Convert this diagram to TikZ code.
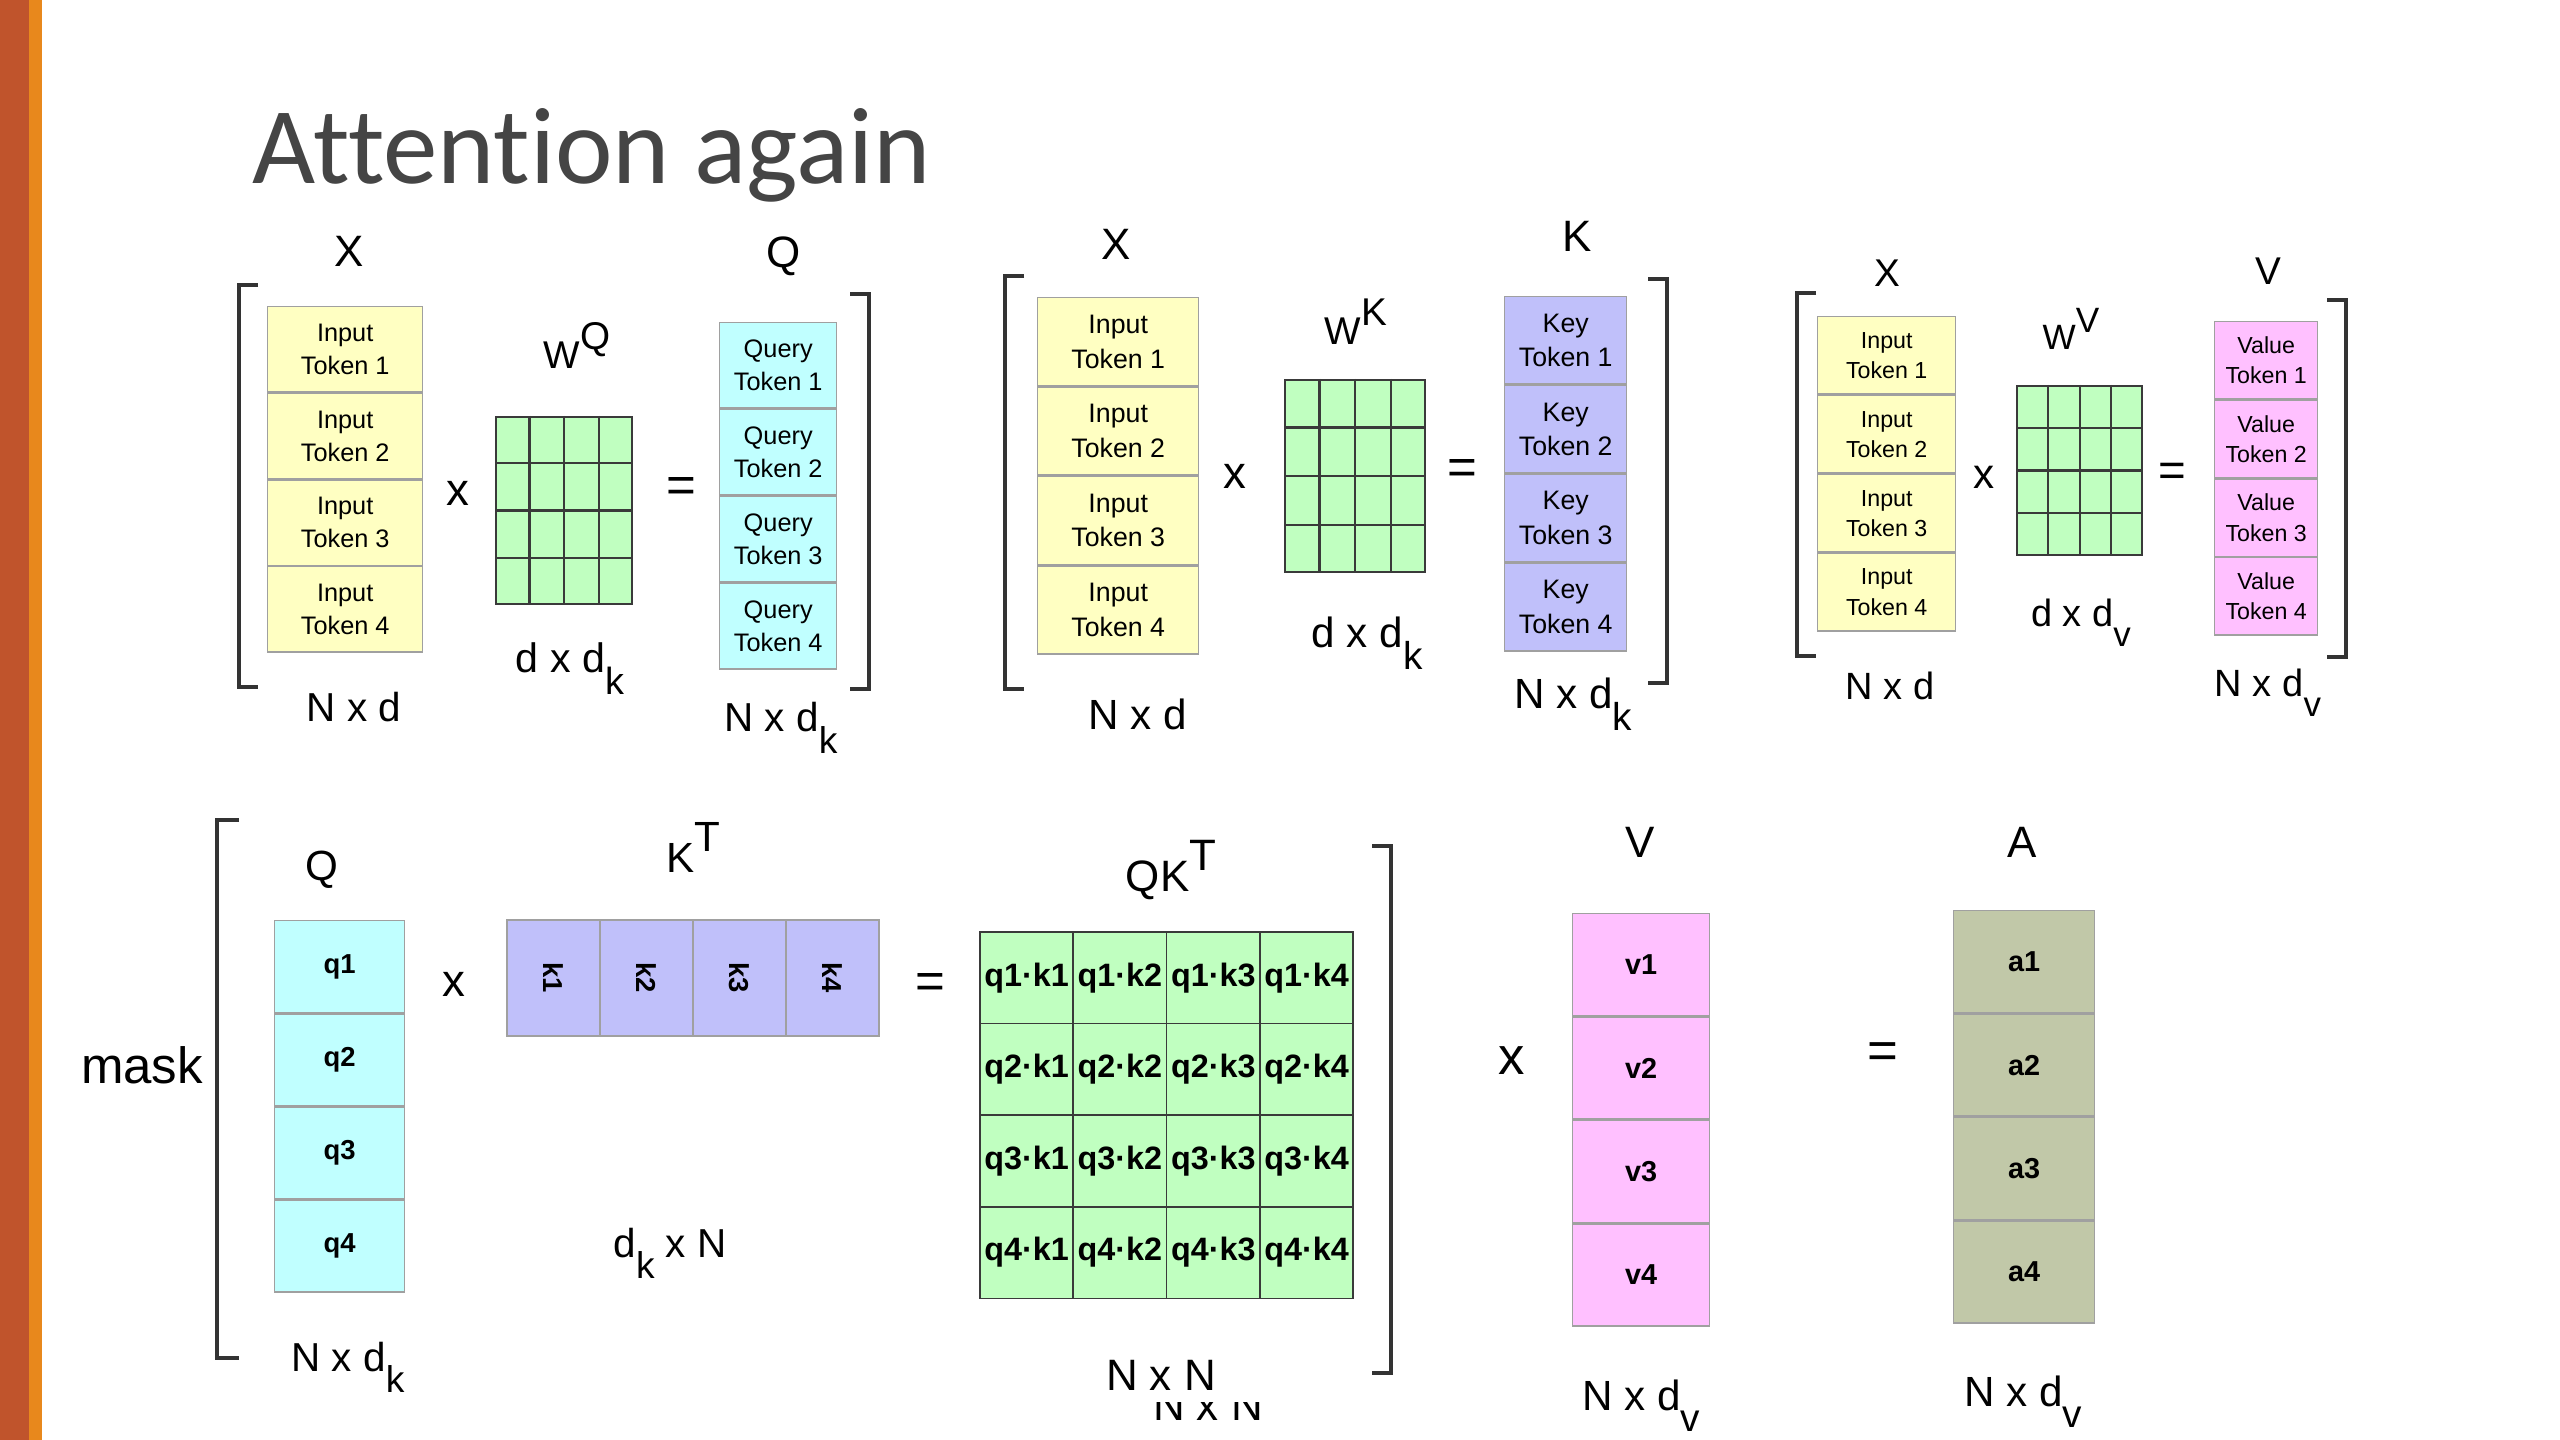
\documentclass[tikz,border=0pt]{standalone}
\usepackage{fontspec}
\setmainfont{Liberation Sans}
\newfontfamily\titlefont{Carlito}[Ligatures={NoCommon}]
\usetikzlibrary{positioning,calc}

\definecolor{barbrown}{HTML}{C0542C}
\definecolor{barorange}{HTML}{E8881C}
\definecolor{titlegray}{HTML}{454545}
\definecolor{inyellow}{HTML}{FFFFC2}
\definecolor{qcyan}{HTML}{C0FFFF}
\definecolor{kblue}{HTML}{C0C0FA}
\definecolor{vpink}{HTML}{FFC0FF}
\definecolor{wgreen}{HTML}{C0FFC0}
\definecolor{aolive}{HTML}{C1C8A8}
\definecolor{cellgray}{HTML}{A0A0A0}
\definecolor{gridline}{HTML}{3A3A3A}
\definecolor{brkgray}{HTML}{333333}

\begin{document}
\begin{tikzpicture}[x=0.01cm, y=-0.01cm]
\def\pxl{0.01cm}
\tikzset{cell/.style={draw=cellgray, line width=0.4pt, inner sep=0pt, align=center}}
	\tikzset{incell/.style={cell, fill=inyellow}}
	\tikzset{qcell/.style={cell, fill=qcyan}}
	\tikzset{kcell/.style={cell, fill=kblue}}
	\tikzset{vcell/.style={cell, fill=vpink}}
	\tikzset{acell/.style={cell, fill=aolive}}
	\tikzset{qkcell/.style={draw=gridline, fill=wgreen, line width=0.5pt, inner sep=0pt, font=\bfseries\fontsize{9.2}{9.2}\selectfont}}
	\tikzset{wgrid/.style={draw=gridline, fill=wgreen, line width=0.6pt, inner sep=0pt}}
	\tikzset{gridln/.style={draw=gridline, line width=0.6pt}}
	\tikzset{lbl/.style={inner sep=0pt, anchor=base}}
	\tikzset{op/.style={inner sep=0pt, anchor=center}}
	\tikzset{brk/.style={draw=brkgray, line width=0.9pt}}

	\newcommand{\fs}[1]{\fontsize{#1}{#1}\selectfont}
	\newcommand{\lowsub}[1]{\raisebox{-0.52em}{\scalebox{0.92}{#1}}}
	\newcommand{\highsup}[1]{\raisebox{0.5em}{#1}}

	% column of four cells: name, x, y, width, height, style, text, font
	\newcommand{\tokcol}[8]{
\node[#6, font={#8}, minimum width=#4*\pxl, minimum height=#5*\pxl, anchor=north west] (#11) at (#2,#3) {#71};
\foreach \i [remember=\i as \last (initially 1)] in {2,3,4}
	\node[#6, font={#8}, minimum width=#4*\pxl, minimum height=#5*\pxl, below=0pt of #1\last] (#1\i) {#7\i};
	}

	% green 4x4 weight matrix: name, x, y, width, height
	\newcommand{\wmat}[5]{
\node[wgrid, minimum width=#4*\pxl, minimum height=#5*\pxl, anchor=north west] (#1) at (#2,#3) {};
\foreach \k in {1,2,3} {
	\draw[gridln] ($(#1.north west)!\k/4!(#1.north east)$) -- ($(#1.south west)!\k/4!(#1.south east)$);
	\draw[gridln] ($(#1.north west)!\k/4!(#1.south west)$) -- ($(#1.north east)!\k/4!(#1.south east)$);
}
	}

\useasboundingbox (0,0) rectangle (2560,1440);
\fill[white] (0,0) rectangle (2560,1440);
\fill[barbrown] (0,0) rectangle (29,1440);
\fill[barorange] (29,0) rectangle (42,1440);

\node[anchor=base west, inner sep=0pt, font=\titlefont\fs{31}, text=titlegray] (title) at (252,184) {Attention again};

%% Q = X W^Q
\tokcol{inA}{267}{306}{155}{85.25}{incell}{Input\\Token~}{\fontsize{7.2}{9.4}\selectfont}
\wmat{wq}{495}{416}{136}{187}
\tokcol{qt}{719}{322}{117}{85.5}{qcell}{Query\\Token~}{\fontsize{7.2}{9.4}\selectfont}
\node[lbl, font=\fs{12.5}] (xA) at (349,267) {X};
\node[lbl, font=\fs{12.5}] (qA) at (784,268) {Q};
\node[lbl, font=\fs{11}] (wqA) at (577,369) {W\highsup{Q}};
\node[op, font=\fs{13}] (mulA) at (458,493) {x};
\node[op, font=\fs{14.5}] (eqA) at (681,490) {=};
\node[lbl, font=\fs{11.5}] (dimxA) at (354,722) {N x d};
\node[lbl, font=\fs{11.7}] (dimwA) at (570,673) {d x d\lowsub{k}};
\node[lbl, font=\fs{11.5}] (dimqA) at (781,732) {N x d\lowsub{k}};
\draw[brk] (258,285) -- (239,285) -- (239,687) -- (258,687);
\draw[brk] (850,294) -- (869,294) -- (869,689) -- (850,689);

%% K = X W^K
\tokcol{inB}{1037}{297}{161}{88}{incell}{Input\\Token~}{\fontsize{7.6}{9.9}\selectfont}
\wmat{wk}{1284}{379}{140}{192}
\tokcol{kyt}{1504}{296}{122}{87.5}{kcell}{Key\\Token~}{\fontsize{7.6}{9.9}\selectfont}
\node[lbl, font=\fs{12.5}] (xB) at (1116,260) {X};
\node[lbl, font=\fs{12.5}] (kB) at (1577,252) {K};
\node[lbl, font=\fs{11}] (wkB) at (1356,345) {W\highsup{K}};
\node[op, font=\fs{13}] (mulB) at (1235,476) {x};
\node[op, font=\fs{14.5}] (eqB) at (1462,472) {=};
\node[lbl, font=\fs{12}] (dimxB) at (1138,730) {N x d};
\node[lbl, font=\fs{12}] (dimwB) at (1367,648) {d x d\lowsub{k}};
\node[lbl, font=\fs{12}] (dimkB) at (1573,709) {N x d\lowsub{k}};
\draw[brk] (1024,276) -- (1005,276) -- (1005,689) -- (1024,689);
\draw[brk] (1648,279) -- (1667,279) -- (1667,683) -- (1648,683);

%% V = X W^V
\tokcol{inC}{1817}{316}{138}{77.5}{incell}{Input\\Token~}{\fontsize{6.6}{8.6}\selectfont}
\wmat{wv}{2016}{385}{125}{169}
\tokcol{vt}{2214}{321}{103}{77.25}{vcell}{Value\\Token~}{\fontsize{6.6}{8.6}\selectfont}
\node[lbl, font=\fs{11}] (xC) at (1887,287) {X};
\node[lbl, font=\fs{11}] (vC) at (2268,285) {V};
\node[lbl, font=\fs{10}] (wvC) at (2071,350) {W\highsup{V}};
\node[op, font=\fs{12}] (mulC) at (1984,477) {x};
\node[op, font=\fs{13.5}] (eqC) at (2172,475) {=};
\node[lbl, font=\fs{10.8}] (dimxC) at (1890,700) {N x d};
\node[lbl, font=\fs{10.8}] (dimwC) at (2081,627) {d x d\lowsub{v}};
\node[lbl, font=\fs{10.8}] (dimvC) at (2268,697) {N x d\lowsub{v}};
\draw[brk] (1816,293) -- (1797,293) -- (1797,656) -- (1816,656);
\draw[brk] (2327,300) -- (2346,300) -- (2346,657) -- (2327,657);

%% mask(Q K^T) V = A
\node[lbl, font=\fs{14.5}] (mask) at (142,1083) {mask};
\tokcol{qb}{274}{920}{130}{91.75}{qcell}{q}{\bfseries\fs{7.8}}
\foreach \c in {1,...,4}
	\node[kcell, font=\bfseries\fs{7.8}, minimum width=93*\pxl, minimum height=116*\pxl] (kt\c) at ({507+(\c-0.5)*93},978) {\rotatebox{-90}{k\c}};
\foreach \r in {1,...,4}
	\foreach \c in {1,...,4}
		\node[qkcell, minimum width=93.3*\pxl, minimum height=91.6*\pxl] (qk\r\c) at ({980+(\c-0.5)*93.3},{932+(\r-0.5)*91.6}) {q\r·k\c};
\tokcol{vb}{1572}{913}{137}{102}{vcell}{v}{\bfseries\fs{8.2}}
\tokcol{ab}{1953}{910}{141}{102}{acell}{a}{\bfseries\fs{8.2}}

\node[lbl, font=\fs{12}] (qD) at (322,880) {Q};
\node[lbl, font=\fs{12}] (ktD) at (693,873) {K\highsup{T}};
\node[lbl, font=\fs{12.5}] (qkD) at (1171,892) {QK\highsup{T}};
\node[lbl, font=\fs{12.5}] (vD) at (1640,857) {V};
\node[lbl, font=\fs{12.5}] (aD) at (2022,857) {A};
\node[op, font=\fs{13}] (mulD) at (454,984) {x};
\node[op, font=\fs{14.5}] (eqD) at (930,986) {=};
\node[op, font=\fs{15}] (mulE) at (1512,1061) {x};
\node[op, font=\fs{15}] (eqE) at (1883,1056) {=};
\node[lbl, font=\fs{11.5}] (dimqD) at (348,1371) {N x d\lowsub{k}};
\node[lbl, font=\fs{11.5}] (dimkD) at (670,1257) {d\lowsub{k} x N};
\node[lbl, font=\fs{12.5}] (dimqkD) at (1161,1390) {N x N};
\begin{scope}
\clip (1140,1402) rectangle (1290,1440);
\node[lbl, font=\fs{12.5}] (dimghost) at (1208,1420) {N x N};
\end{scope}
\node[lbl, font=\fs{12}] (dimvD) at (1641,1410) {N x d\lowsub{v}};
\node[lbl, font=\fs{12}] (dimaD) at (2023,1406) {N x d\lowsub{v}};
\draw[brk] (239,820) -- (217,820) -- (217,1358) -- (239,1358);
\draw[brk] (1372,846) -- (1391,846) -- (1391,1373) -- (1372,1373);
\end{tikzpicture}
\end{document}
